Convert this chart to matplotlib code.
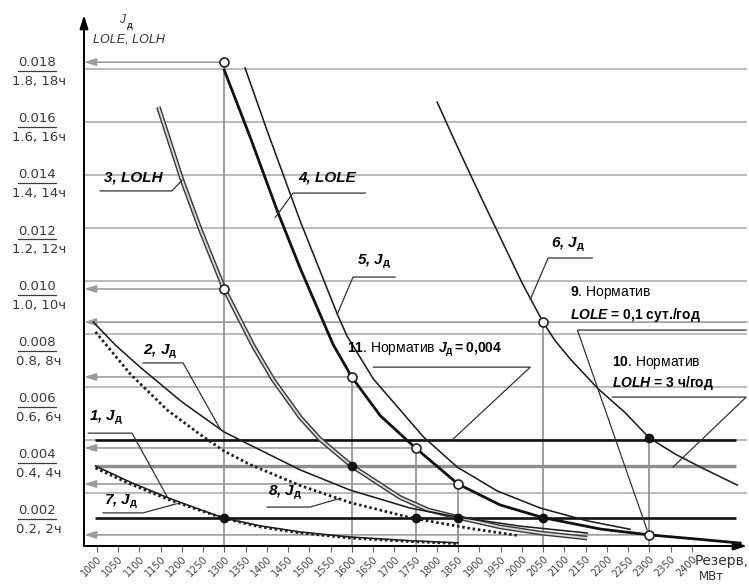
import matplotlib.pyplot as plt

plt.rcParams['font.family'] = ['Liberation Sans', 'DejaVu Sans']
plt.rcParams['mathtext.fontset'] = 'custom'
plt.rcParams['mathtext.rm'] = 'Liberation Sans:bold'
plt.rcParams['mathtext.it'] = 'Liberation Sans:italic:bold'
plt.rcParams['mathtext.bf'] = 'Liberation Sans:bold'

# ---- curves: reserve, MW  ->  J_д (LOLE, LOLH on the same scale) ----
c1_x = [997, 1079, 1166, 1244, 1300, 1385, 1479, 1596, 1738, 1850]
c1_y = [0.00302, 0.00241, 0.00183, 0.00137, 0.00105, 0.00076, 0.00053, 0.00034, 0.00020, 0.00012]

c7_x = [997, 1079, 1166, 1244, 1300, 1385, 1479, 1596, 1738, 1850]
c7_y = [0.00294, 0.00234, 0.00177, 0.00134, 0.00104, 0.00072, 0.00049, 0.00030, 0.00017, 0.00009]

c2_x = [992, 1044, 1102, 1201, 1300, 1361, 1479, 1596, 1738, 1850, 1996, 2154]
c2_y = [0.00845, 0.00758, 0.00675, 0.00543, 0.00430, 0.00381, 0.00287, 0.00211, 0.00143, 0.00109, 0.00075, 0.00049]

c8_x = [997, 1079, 1166, 1244, 1300, 1361, 1479, 1596, 1738, 1872, 1989]
c8_y = [0.00808, 0.00649, 0.00513, 0.00420, 0.00358, 0.00307, 0.00228, 0.00164, 0.00107, 0.00068, 0.00040]

c3_x = [1145, 1201, 1244, 1300, 1368, 1415, 1479, 1526, 1600, 1714, 1780, 1850, 1949, 2044, 2154]
c3_y = [0.01657, 0.01380, 0.01193, 0.00970, 0.00756, 0.00628, 0.00485, 0.00402, 0.00302, 0.00183,
        0.00136, 0.00108, 0.00072, 0.00049, 0.00030]

c4_x = [1300, 1361, 1425, 1479, 1556, 1600, 1667, 1750, 1850, 1949, 2050, 2185, 2300, 2420, 2514]
c4_y = [0.01796, 0.01543, 0.01264, 0.01047, 0.00761, 0.00638, 0.00492, 0.00370, 0.00234, 0.00155,
        0.00107, 0.00064, 0.00042, 0.00025, 0.00011]

c5_x = [1349, 1401, 1479, 1566, 1589, 1651, 1768, 1848, 1942, 2044, 2154, 2255]
c5_y = [0.01804, 0.01567, 0.01225, 0.00875, 0.00792, 0.00630, 0.00413, 0.00298, 0.00208, 0.00143,
        0.00095, 0.00063]

c6_x = [1801, 1836, 1872, 1909, 1949, 2001, 2050, 2079, 2114, 2178, 2244, 2300, 2361, 2420, 2507]
c6_y = [0.01675, 0.01551, 0.01426, 0.01300, 0.01166, 0.00992, 0.00845, 0.00774, 0.00706, 0.00596,
        0.00502, 0.00408, 0.00347, 0.00298, 0.00230]

# read-off points
open_x = [1300, 1300, 1600, 1750, 1850, 2050, 2300]
open_y = [0.01826, 0.00970, 0.00638, 0.00370, 0.00234, 0.00845, 0.00042]
fill_x = [1300, 1600, 1750, 1850, 2050, 2300]
fill_y = [0.00106, 0.00302, 0.00106, 0.00106, 0.00106, 0.00408]

# arrows to the axis: value, where it starts
arrow_y = [0.01826, 0.00970, 0.00845, 0.00638, 0.00370, 0.00234, 0.00042]
arrow_from = [1300, 1300, 2530, 1600, 1750, 1850, 2300]

# vertical drop lines
drop_x = [1300, 1600, 1750, 1850, 2050, 2300]
drop_top = [0.01826, 0.00638, 0.00370, 0.00234, 0.00845, 0.00408]

# normative levels
norm_black = [0.00400, 0.00106]
norm_grey = [0.00302]

grid_y = [0.002, 0.004, 0.006, 0.008, 0.010, 0.012, 0.014, 0.016, 0.018]
xticks = list(range(1000, 2401, 50))

ytick_main = ["0.018", "0.016", "0.014", "0.012", "0.010", "0.008", "0.006", "0.004", "0.002"]
ytick_sub = ["1.8, 18ч", "1.6, 16ч", "1.4, 14ч", "1.2, 12ч", "1.0, 10ч",
             "0.8, 8ч", "0.6, 6ч", "0.4, 4ч", "0.2, 2ч"]

JD = r"$J_\mathrm{д}$"
# callouts: text, text position, leader polyline
curve_labels = [
    ("3, LOLH", (1087, 0.01392), [(1008, 0.0134), (1177, 0.0134), (1201, 0.01381)]),
    ("4, LOLE", (1543, 0.01392), [(1632, 0.01332), (1462, 0.01332), (1420, 0.01240)]),
    ("5, " + JD, (1652, 0.01072), [(1702, 0.01015), (1603, 0.01015), (1566, 0.00875)]),
    ("6, " + JD, (2109, 0.01136), [(2166, 0.01087), (2062, 0.01087), (2020, 0.0093)]),
    ("2, " + JD, (1149, 0.00732), [(1109, 0.00691), (1203, 0.00691), (1291, 0.0044)]),
    ("1, " + JD, (1022, 0.00483), [(980, 0.00426), (1083, 0.00426), (1166, 0.00185)]),
    ("7, " + JD, (1058, 0.00166), [(1015, 0.00125), (1109, 0.00125), (1189, 0.00160)]),
    ("8, " + JD, (1443, 0.00200), [(1401, 0.00147), (1502, 0.00147), (1573, 0.00180)]),
]
norm_labels = [
    ([r"$\mathbf{9}$. Норматив", r"$LOLE$ = 0,1 сут./год"], (2114, 0.00955, 0.00872),
     [(2528, 0.00815), (2131, 0.00815), (2295, 0.0006)]),
    ([r"$\mathbf{10}$. Норматив", r"$LOLH$ = 3 ч/год"], (2213, 0.00691, 0.00615),
     [(2213, 0.00562), (2528, 0.00562), (2356, 0.00298)]),
    ([r"$\mathbf{11}$. Норматив $J_\mathrm{д}\mathbf{=0{,}004}$"], (1589, 0.0074, None),
     [(1651, 0.00675), (2020, 0.00675), (1836, 0.0040)]),
]

W, H = 749, 584
fig = plt.figure(figsize=(W / 100, H / 100), dpi=100)
ax = fig.add_axes([84 / W, 1 - 546 / H, (747 - 84) / W, (546 - 15) / H])
ax.set_xlim(970, 2530)
ax.set_ylim(0, 0.02004)
for s in ax.spines.values():
    s.set_visible(False)
ax.set_yticks([])
ax.set_xticks(xticks)
ax.set_xticklabels([str(v) for v in xticks], rotation=45, ha='right', va='top',
                   rotation_mode='anchor', fontsize=7, color='#454545', family='DejaVu Sans')
ax.tick_params(axis='x', length=4, width=0.8, color='#666666', pad=2)

for g in grid_y:
    ax.axhline(g, color='#a8a8a8', lw=1.1, zorder=1)

for v, x0 in zip(arrow_y, arrow_from):
    ax.annotate('', xy=(970, v), xytext=(x0, v), zorder=1,
                arrowprops=dict(arrowstyle='-|>,head_length=0.7,head_width=0.22',
                                color='#9c9c9c', lw=1.2, shrinkA=0, shrinkB=0))

ax.vlines(drop_x, 0, drop_top, color='#8c8c8c', lw=1.2, zorder=2)
ax.hlines(norm_grey, 996, 2505, color='#8e8e8e', lw=2.4, zorder=2)
ax.hlines(norm_black, 996, 2505, color='#111111', lw=1.9, zorder=3)

# curves
ax.plot(c3_x, c3_y, color='#3c3c3c', lw=3.4, zorder=4, solid_capstyle='butt', solid_joinstyle='round')
ax.plot(c3_x, c3_y, color='#dadada', lw=1.3, zorder=4, solid_capstyle='butt', solid_joinstyle='round')
ax.plot(c4_x, c4_y, color='#111111', lw=2.0, zorder=5, solid_joinstyle='round')
for cx, cy in [(c5_x, c5_y), (c6_x, c6_y), (c2_x, c2_y), (c1_x, c1_y)]:
    ax.plot(cx, cy, color='#1e1e1e', lw=1.15, zorder=5, solid_joinstyle='round')
for cx, cy in [(c7_x, c7_y), (c8_x, c8_y)]:
    ax.plot(cx, cy, color='#1e1e1e', lw=2.0, ls=(0, (0.9, 1.0)), zorder=5)

ax.plot(open_x, open_y, 'o', ls='none', ms=6.5, mfc='white', mec='#222222', mew=1.2, zorder=7)
ax.plot(fill_x, fill_y, 'o', ls='none', ms=6, color='#111111', zorder=7)

# callouts
for txt, (tx, ty), path in curve_labels:
    ax.text(tx, ty, txt, fontsize=11, fontweight='bold', style='italic',
            ha='center', va='center', zorder=8)
    ax.plot([p[0] for p in path], [p[1] for p in path], color='#333333', lw=0.9, zorder=6)

for lines, (tx, ty1, ty2), path in norm_labels:
    ax.text(tx, ty1, lines[0], fontsize=10, ha='left', va='center', zorder=8)
    if ty2 is not None:
        ax.text(tx, ty2, lines[1], fontsize=10, fontweight='bold', ha='left', va='center', zorder=8)
    ax.plot([p[0] for p in path], [p[1] for p in path], color='#333333', lw=0.9, zorder=6)

# axes with arrows
ax.annotate('', xy=(1, 0), xytext=(0, 0), xycoords='axes fraction', annotation_clip=False,
            arrowprops=dict(arrowstyle='-|>,head_length=0.8,head_width=0.25', color='black',
                            lw=1.4, shrinkA=0, shrinkB=0))
ax.annotate('', xy=(0, 1), xytext=(0, 0), xycoords='axes fraction', annotation_clip=False,
            arrowprops=dict(arrowstyle='-|>,head_length=0.8,head_width=0.25', color='black',
                            lw=1.4, shrinkA=0, shrinkB=0))

# y-axis labels drawn as figure text (two-level scale)
for i, (m, s) in enumerate(zip(ytick_main, ytick_sub)):
    py = 63 + 56 * i
    fig.text(37 / W, 1 - py / H, m, fontsize=9.5, color='#3a3a3a', family='DejaVu Sans',
             ha='center', va='center')
    fig.add_artist(plt.Line2D([18 / W, 56 / W], [1 - (py + 8) / H] * 2, color='#3a3a3a', lw=0.9))
    fig.text(39 / W, 1 - (py + 19) / H, s, fontsize=9.5, color='#3a3a3a', family='DejaVu Sans',
             ha='center', va='center')

fig.text(119 / W, 1 - 20 / H, "J", fontsize=8.5, style='italic', color='#333333', ha='left', va='center')
fig.text(127 / W, 1 - 25 / H, "д", fontsize=6.5, fontweight='bold', color='#333333', ha='left', va='center')
fig.text(129 / W, 1 - 40 / H, "LOLE, LOLH", fontsize=9, style='italic', color='#333333',
         ha='center', va='center')

fig.text(695 / W, 1 - 561 / H, "Резерв,", fontsize=10, color='#333333', ha='left', va='center',
         family='DejaVu Sans')
fig.text(699 / W, 1 - 576 / H, "МВт", fontsize=8.5, color='#333333', ha='left', va='center',
         family='DejaVu Sans')

fig.savefig('out.png', dpi=100)
